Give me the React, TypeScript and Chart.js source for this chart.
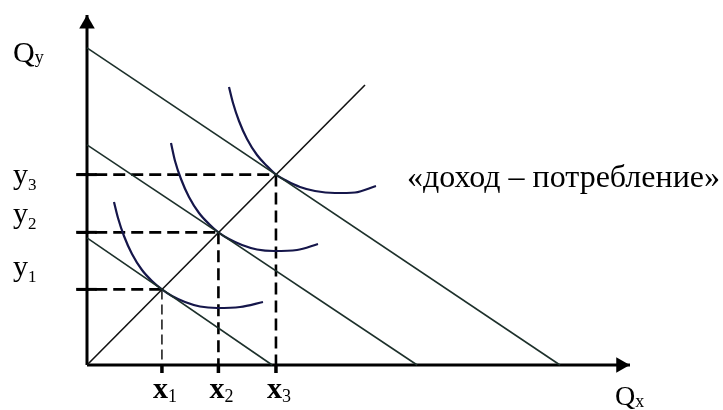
import { useEffect, useRef } from 'react';
import { Chart, registerables } from 'chart.js';

Chart.register(...registerables);

// Budget lines: intercepts on the Qy axis and on the Qx axis
const budgetYIntercepts = [36.3, 62.9, 90.6];
const budgetXIntercepts = [34.1, 60.8, 87.1];

// Optimum (tangency) points on the income–consumption line
const optimumX = [13.8, 24.2, 34.8];
const optimumY = [21.6, 37.9, 54.4];

// Income–consumption line (through origin)
const incomeLineX = [0, 51.2];
const incomeLineY = [0, 80];

// Indifference curves
const curve1X = [4.97, 5.71, 6.81, 8.29, 10.13, 11.97, 13.8, 15.65, 18.05, 20.81, 23.94, 28.18, 32.41];
const curve1Y = [46.57, 42.0, 36.86, 31.71, 27.14, 24.0, 21.6, 19.71, 18.0, 16.71, 16.29, 16.57, 18.0];
const curve2X = [15.47, 16.21, 17.31, 18.78, 20.63, 22.47, 24.2, 26.15, 28.55, 31.31, 34.44, 38.67, 42.54];
const curve2Y = [63.43, 58.29, 53.14, 48.0, 43.43, 40.29, 37.9, 36.0, 34.29, 33.0, 32.57, 32.86, 34.57];
const curve3X = [26.15, 26.89, 27.99, 29.47, 31.31, 33.15, 34.8, 36.83, 39.23, 41.99, 45.67, 49.36, 53.22];
const curve3Y = [79.43, 74.86, 69.71, 64.57, 60.0, 56.86, 54.4, 52.57, 50.86, 49.71, 49.14, 49.29, 51.14];

// Axes
const axisMax = 100;
const yArrowAt = 97.4;
const xArrowAt = 98.3;
const tickLeft = -2.0;
const tickRight = 1.8;
const dashStart = -1.8;
const tickBelow = -2.3;

// Texts
const yTitle = ['Q', 'y'];
const xTitle = ['Q', 'x'];
const yTickLabels = [['y', '1'], ['y', '2'], ['y', '3']];
const xTickLabels = [['x', '1'], ['x', '2'], ['x', '3']];
const pathLabel = '«доход – потребление»';

const SERIF = '"Liberation Serif", "Times New Roman", serif';

const pts = (xs: number[], ys: number[]) => xs.map((v, i) => ({ x: v, y: ys[i] }));

const labelsPlugin = {
  id: 'labelsPlugin',
  afterDatasetsDraw(chart: any) {
    const { ctx } = chart;
    const xs = chart.scales.x;
    const ys = chart.scales.y;
    const px = (v: number) => xs.getPixelForValue(v);
    const py = (v: number) => ys.getPixelForValue(v);
    ctx.save();
    ctx.fillStyle = '#000';
    ctx.textBaseline = 'alphabetic';
    ctx.textAlign = 'left';
    const drawSub = (
      main: string,
      sub: string,
      left: number,
      base: number,
      mainFont: string,
      subFont: string,
      subDy: number
    ) => {
      ctx.font = mainFont;
      ctx.fillText(main, left, base);
      const w = ctx.measureText(main).width;
      ctx.font = subFont;
      ctx.fillText(sub, left + w, base + subDy);
    };
    const measureSub = (main: string, sub: string, mainFont: string, subFont: string) => {
      ctx.font = mainFont;
      const w1 = ctx.measureText(main).width;
      ctx.font = subFont;
      const w2 = ctx.measureText(sub).width;
      return w1 + w2;
    };

    // Qy
    drawSub(yTitle[0], yTitle[1], px(0) - 74, py(axisMax) + 47, `30px ${SERIF}`, `18px ${SERIF}`, 1);
    // Qx
    drawSub(xTitle[0], xTitle[1], px(axisMax) - 15, py(0) + 40, `28px ${SERIF}`, `18px ${SERIF}`, 2);

    // y labels
    const yOffsets = [-13, -9.5, 9.5];
    yTickLabels.forEach((lab, i) => {
      drawSub(lab[0], lab[1], px(0) - 74, py(optimumY[i]) + yOffsets[i], `30px ${SERIF}`, `17px ${SERIF}`, 6);
    });

    // x labels
    xTickLabels.forEach((lab, i) => {
      const mf = `bold 30px ${SERIF}`;
      const sf = `18px ${SERIF}`;
      const w = measureSub(lab[0], lab[1], mf, sf);
      drawSub(lab[0], lab[1], px(optimumX[i]) + 3 - w / 2, py(0) + 33, mf, sf, 4);
    });

    // path label
    ctx.font = `32px ${SERIF}`;
    ctx.fillText(pathLabel, px(optimumX[2]) + 131, py(optimumY[2]) + 12.5);
    ctx.restore();
  },
};

export default function App() {
  const ref = useRef<HTMLCanvasElement | null>(null);

  useEffect(() => {
    if (!ref.current) return;
    const budgetColor = '#1d302b';
    const curveColor = '#15164a';
    const line = (data: any[], color: string, width: number, extra: any = {}) => ({
      data,
      showLine: true,
      borderColor: color,
      borderWidth: width,
      pointRadius: 0,
      pointHoverRadius: 0,
      tension: 0,
      fill: false,
      clip: false,
      ...extra,
    });

    const datasets: any[] = [];
    // budget lines
    budgetYIntercepts.forEach((b, i) => {
      datasets.push(line([{ x: 0, y: b }, { x: budgetXIntercepts[i], y: 0 }], budgetColor, 1.6));
    });
    // income-consumption line
    datasets.push(line(pts(incomeLineX, incomeLineY), '#111', 1.6));
    // indifference curves
    [pts(curve1X, curve1Y), pts(curve2X, curve2Y), pts(curve3X, curve3Y)].forEach((c) => {
      datasets.push(line(c, curveColor, 2.2, { cubicInterpolationMode: 'monotone' }));
    });
    // dashed guides
    optimumX.forEach((ox, i) => {
      const oy = optimumY[i];
      datasets.push(
        line([{ x: dashStart, y: oy }, { x: ox, y: oy }], '#000', 2.6, { borderDash: [12, 6] })
      );
      datasets.push(
        line([{ x: ox, y: oy }, { x: ox, y: 0 }], '#000', i === 0 ? 1.4 : 2.6, {
          borderDash: i === 0 ? [10, 5] : [12, 6],
        })
      );
    });
    // axes
    datasets.push(line([{ x: 0, y: 0 }, { x: 0, y: axisMax }], '#000', 3));
    datasets.push(line([{ x: 0, y: 0 }, { x: axisMax, y: 0 }], '#000', 3));
    // ticks
    optimumY.forEach((oy) => {
      datasets.push(line([{ x: tickLeft, y: oy }, { x: tickRight, y: oy }], '#000', 3));
    });
    optimumX.forEach((ox) => {
      datasets.push(line([{ x: ox, y: 0 }, { x: ox, y: tickBelow }], '#000', 3.5));
    });
    // arrows
    datasets.push({
      data: [{ x: 0, y: yArrowAt }],
      showLine: false,
      pointStyle: 'triangle',
      pointRadius: 9,
      pointRotation: 0,
      backgroundColor: '#000',
      borderColor: '#000',
      borderWidth: 0,
      clip: false,
    });
    datasets.push({
      data: [{ x: xArrowAt, y: 0 }],
      showLine: false,
      pointStyle: 'triangle',
      pointRadius: 9,
      pointRotation: 90,
      backgroundColor: '#000',
      borderColor: '#000',
      borderWidth: 0,
      clip: false,
    });

    const chart = new Chart(ref.current, {
      type: 'scatter',
      data: { datasets },
      options: {
        animation: false,
        responsive: false,
        events: [],
        layout: { padding: { left: 87, right: 93, top: 15, bottom: 45 } },
        plugins: { legend: { display: false }, tooltip: { enabled: false } },
        scales: {
          x: { type: 'linear', min: 0, max: axisMax, display: false },
          y: { type: 'linear', min: 0, max: axisMax, display: false },
        },
      },
      plugins: [labelsPlugin],
    });
    return () => chart.destroy();
  }, []);

  return (
    <div style={{ position: 'absolute', left: 0, top: 0, width: 723, height: 410, background: '#fff' }}>
      <canvas ref={ref} width={723} height={410} style={{ display: 'block' }} />
    </div>
  );
}
